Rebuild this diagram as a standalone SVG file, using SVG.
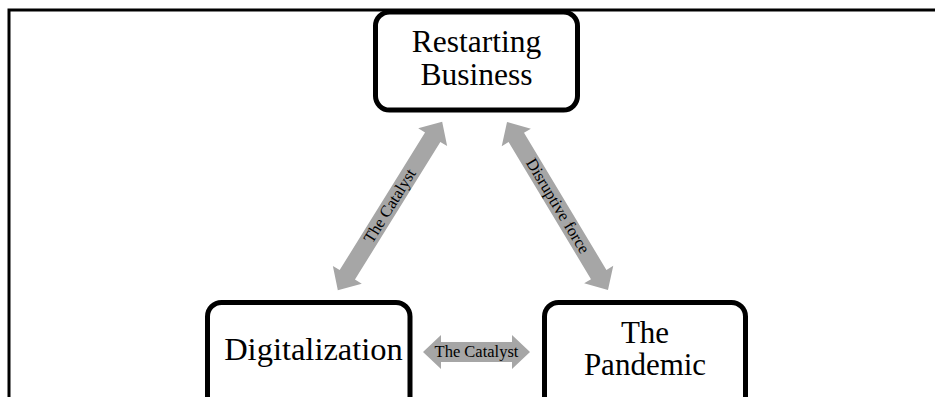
<svg xmlns="http://www.w3.org/2000/svg" width="935" height="397" viewBox="0 0 935 397">
  <style>
    .frame { fill: none; stroke: #000; stroke-width: 3; }
    .box { fill: #fff; stroke: #000; stroke-width: 5; }
    .label { font-family: "Liberation Serif", "Times New Roman", serif; font-size: 31px; fill: #000; text-anchor: middle; }
    .arrow { fill: #a6a6a6; }
    .tag { font-family: "Liberation Serif", "Times New Roman", serif; font-size: 16.5px; fill: #000; text-anchor: middle; }
  </style>

  <rect width="935" height="397" fill="#fff"/>
  <path class="frame" d="M9,397 V10 H935"/>

  <!-- double-headed block arrows, drawn along x and rotated into place -->
  <g id="connectors">
    <g transform="translate(390,206) rotate(-58.2)">
      <path class="arrow" d="M-99,0 L-81,-17 L-81,-9 L81,-9 L81,-17 L99,0 L81,17 L81,9 L-81,9 L-81,17 Z"/>
      <text class="tag" x="0" y="5">The Catalyst</text>
    </g>
    <g transform="translate(557.5,206) rotate(59)">
      <path class="arrow" d="M-98,0 L-80,-17 L-80,-9 L80,-9 L80,-17 L98,0 L80,17 L80,9 L-80,9 L-80,17 Z"/>
      <text class="tag" x="0" y="5">Disruptive force</text>
    </g>
    <g transform="translate(476.5,352)">
      <path class="arrow" d="M-53.5,0 L-35.5,-17 L-35.5,-10 L35.5,-10 L35.5,-17 L53.5,0 L35.5,17 L35.5,10 L-35.5,10 L-35.5,17 Z"/>
      <text class="tag" x="0" y="5">The Catalyst</text>
    </g>
  </g>

  <g id="restarting-business">
    <rect class="box" x="375.5" y="12" width="202" height="98" rx="14"/>
    <text class="label" x="476.5" y="52" style="font-size:31.5px">Restarting</text>
    <text class="label" x="476.5" y="85" style="font-size:31.5px">Business</text>
  </g>

  <g id="digitalization">
    <rect class="box" x="207.5" y="302.5" width="202.5" height="120" rx="14"/>
    <text class="label" x="313.5" y="360" style="font-size:32.5px">Digitalization</text>
  </g>

  <g id="the-pandemic">
    <rect class="box" x="544.5" y="302.5" width="201" height="120" rx="14"/>
    <text class="label" x="645" y="343">The</text>
    <text class="label" x="645" y="375">Pandemic</text>
  </g>
</svg>
